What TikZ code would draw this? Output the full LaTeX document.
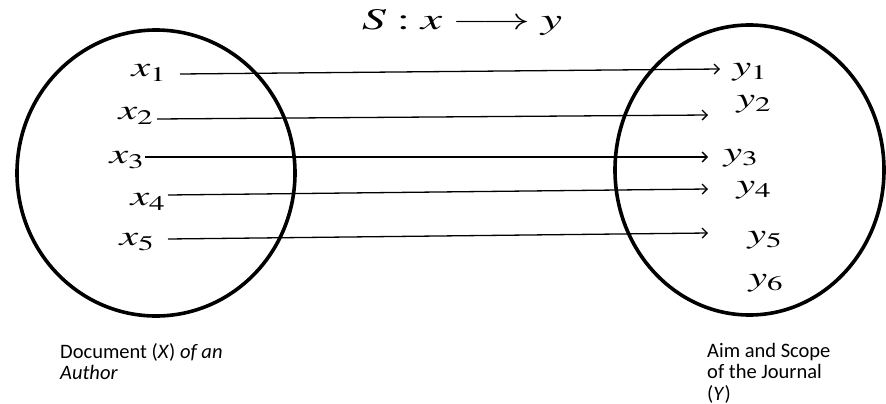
\documentclass[tikz,border=0pt]{standalone}
\usepackage{mathptmx}
\usepackage{fontspec}
\setsansfont{Carlito}
\usetikzlibrary{arrows.meta,shapes.geometric}
\begin{document}
\begin{tikzpicture}[x=1pt,y=-1pt,
  setbox/.style={draw, ellipse, line width=3.6pt, inner sep=0pt},
  lab/.style={inner sep=0pt, font=\fontsize{28}{30}\selectfont},
  capt/.style={inner sep=0pt, align=left, anchor=north west, font=\sffamily\fontsize{20.5}{21.5}\selectfont},
  arr/.style={line width=1.3pt, -{Straight Barb[length=5pt,width=10pt,line width=1.3pt]}}]
\useasboundingbox (0,0) rectangle (886,404);
% sets
\node[setbox, minimum width=278pt, minimum height=286pt] (X) at (156,173) {};
\node[setbox, minimum width=269pt, minimum height=290pt] (Y) at (749.5,170) {};
% title
\node[lab] (title) at (462,22) {\scalebox{1.6}[1]{\fontsize{30}{32}\selectfont$S:x\longrightarrow y$}};
% domain labels
\node[lab] (x1) at (149,73) {\scalebox{1.5}[1]{$x_1$}};
\node[lab] (x2) at (136,116) {\scalebox{1.5}[1]{$x_2$}};
\node[lab] (x3) at (127,160) {\scalebox{1.5}[1]{$x_3$}};
\node[lab] (x4) at (148,202) {\scalebox{1.5}[1]{$x_4$}};
\node[lab] (x5) at (137,242) {\scalebox{1.5}[1]{$x_5$}};
% codomain labels
\node[lab] (y1) at (750,72) {\scalebox{1.5}[1]{$y_1$}};
\node[lab] (y2) at (754,104) {\scalebox{1.5}[1]{$y_2$}};
\node[lab] (y3) at (741,158) {\scalebox{1.5}[1]{$y_3$}};
\node[lab] (y4) at (754,190) {\scalebox{1.5}[1]{$y_4$}};
\node[lab] (y5) at (765,240) {\scalebox{1.5}[1]{$y_5$}};
\node[lab] (y6) at (766,283) {\scalebox{1.5}[1]{$y_6$}};
% arrow ends
\coordinate (s1) at (180,74);  \coordinate (e1) at (720,69);
\coordinate (s2) at (157,119); \coordinate (e2) at (708,115);
\coordinate (s3) at (145,157); \coordinate (e3) at (708,157);
\coordinate (s4) at (168,195); \coordinate (e4) at (708,189);
\coordinate (s5) at (168,239); \coordinate (e5) at (708,233);
\draw[arr] (s1) -- (e1);
\draw[arr] (s2) -- (e2);
\draw[arr] (s3) -- (e3);
\draw[arr] (s4) -- (e4);
\draw[arr] (s5) -- (e5);
% captions
\node[capt] (capX) at (60,343) {Document (\textit{X}) \textit{of an}\\\textit{Author}};
\node[capt] (capY) at (707,343) {Aim and Scope\\of the Journal\\(\textit{Y})};
\end{tikzpicture}
\end{document}
